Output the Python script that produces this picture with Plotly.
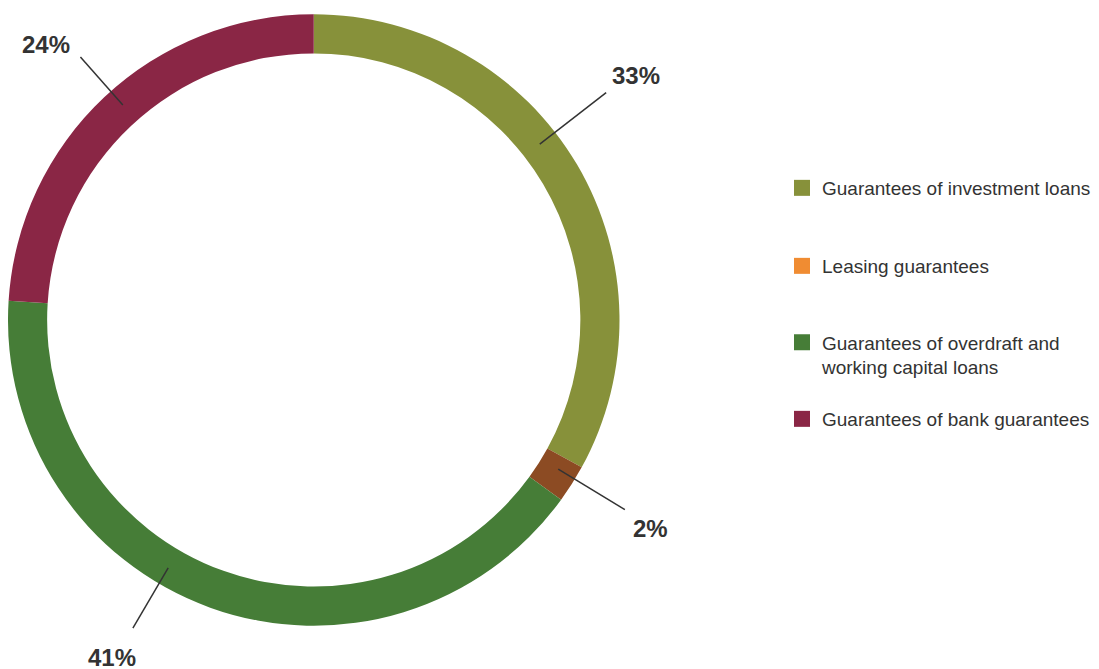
import math
import plotly.graph_objects as go

# ---------------- data ----------------
categories = [
    "Guarantees of investment loans",
    "Leasing guarantees",
    "Guarantees of overdraft and working capital loans",
    "Guarantees of bank guarantees",
]
legend_names = [
    "Guarantees of investment loans",
    "Leasing guarantees",
    "Guarantees of overdraft and<br>working capital loans",
    "Guarantees of bank guarantees",
]
shares = [33, 2, 41, 24]
pct_labels = ["33%", "2%", "41%", "24%"]

# ---------------- styles ----------------
slice_colors = ["#87913A", "#8C4B23", "#467D37", "#8A2645"]
legend_colors = ["#87913A", "#F08C32", "#467D37", "#8A2645"]
label_angle_adjust = [-7.2, -1.1, 10.5, 1.7]      # degrees, leader line tweak
leader_outer_r = [371, 365, 357, 351]             # px
label_offsets = [(30, -17), (26, 19), (-21, 29), (-34, -13)]  # px from leader end
legend_centers_px = [188, 266, 355, 419]

W, H = 1099, 669
OFF = 8          # page body margin: figure drawn at (8, 8) on the page
CX, CY, R = 313, 320, 306.5
HOLE = 0.872
R_IN = 287
TEXT_COLOR = "#333333"


def clamp(v):
    return max(0.0, min(1.0, v))


def px_to_paper_x(px):
    return (px - OFF) / W


def px_to_paper_y(py):
    return 1 - (py - OFF) / H


fig = go.Figure()

fig.add_trace(go.Pie(
    labels=categories,
    values=shares,
    sort=False,
    direction="clockwise",
    rotation=0,
    hole=HOLE,
    marker=dict(colors=slice_colors, line=dict(width=0)),
    textinfo="none",
    hoverinfo="label+percent",
    showlegend=False,
    domain=dict(x=[clamp(px_to_paper_x(CX - R)), clamp(px_to_paper_x(CX + R))],
                y=[clamp(px_to_paper_y(CY + R)), clamp(px_to_paper_y(CY - R))]),
))

# legend entries (hidden points, one legend each)
legend_ids = ["legend", "legend2", "legend3", "legend4"]
for name, col, lid in zip(legend_names, legend_colors, legend_ids):
    fig.add_trace(go.Scatter(
        x=[None], y=[None], mode="markers", name=name,
        marker=dict(symbol="square", size=16, color=col),
        legend=lid, showlegend=True, hoverinfo="skip",
    ))

# leader lines + percentage labels, positioned from the data
total = sum(shares)
cum = 0
for share, lab, adj, r_out, (ox, oy) in zip(shares, pct_labels, label_angle_adjust,
                                            leader_outer_r, label_offsets):
    mid = (cum + share / 2) / total * 360 + adj
    cum += share
    a = math.radians(mid)
    sx, sy = math.sin(a), -math.cos(a)
    x1, y1 = CX + r_out * sx, CY + r_out * sy
    fig.add_shape(type="line", xref="x", yref="y",
                  x0=CX + R_IN * sx, y0=CY + R_IN * sy, x1=x1, y1=y1,
                  line=dict(color=TEXT_COLOR, width=1.5))
    fig.add_annotation(x=x1 + ox, y=y1 + oy, xref="x", yref="y", text=lab,
                       showarrow=False, xanchor="center", yanchor="middle",
                       font=dict(family="Liberation Sans, Arial, sans-serif",
                                 size=24, color=TEXT_COLOR, weight="bold"))

legend_font = dict(family="Liberation Sans, Arial, sans-serif",
                   size=19, color=TEXT_COLOR)
layout_legends = {}
for lid, cy in zip(legend_ids, legend_centers_px):
    layout_legends[lid] = dict(
        x=px_to_paper_x(782), xanchor="left",
        y=px_to_paper_y(cy), yanchor="middle",
        font=legend_font, bgcolor="rgba(0,0,0,0)", borderwidth=0,
        valign="top", itemclick=False, itemdoubleclick=False,
    )

fig.update_layout(
    width=W, height=H,
    margin=dict(l=0, r=0, t=0, b=0),
    paper_bgcolor="white", plot_bgcolor="white",
    xaxis=dict(range=[OFF, W + OFF], visible=False, fixedrange=True, domain=[0, 1]),
    yaxis=dict(range=[H + OFF, OFF], visible=False, fixedrange=True, domain=[0, 1]),
    **layout_legends,
)

fig.write_html("out.html")
